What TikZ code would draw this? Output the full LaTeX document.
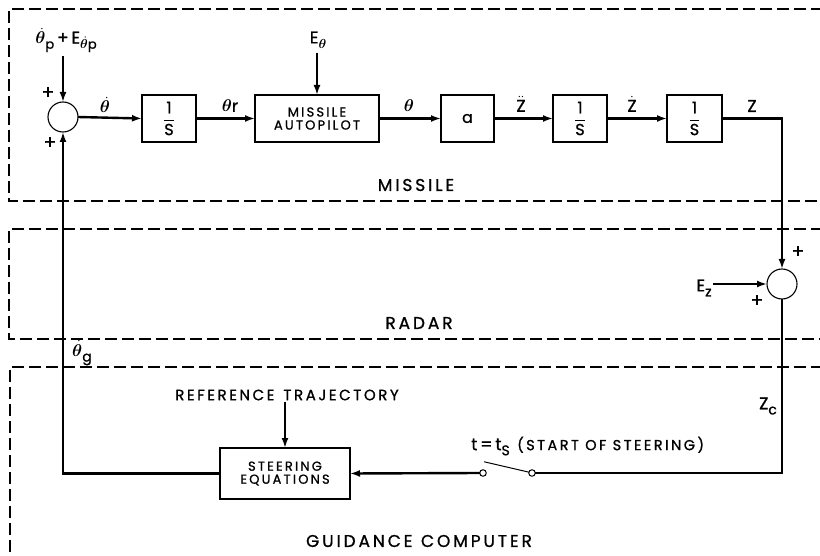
\RequirePackage{fix-cm}
\documentclass[tikz,border=0pt]{standalone}
\usepackage{amsmath,bm}
\usepackage{fontspec}
\setmainfont{Poppins}[LetterSpace=17,FakeBold=1]
\usetikzlibrary{arrows.meta}
\newcommand\mysub[2][13]{\raisebox{-0.3em}{\fontsize{#1}{#1}\selectfont #2}}
\newcommand\myfrac{$\dfrac{\text{1}}{\text{S}}$}
\begin{document}
\begin{tikzpicture}[x=1pt,y=-1pt,
  sig/.style={line width=2.4pt},
  arr/.style={sig,-{Latex[length=10pt,width=7pt]}},
  blk/.style={draw,line width=1.1pt,inner sep=0pt,outer sep=0pt,align=center,font=\fontsize{13}{15}\selectfont},
  fracblk/.style={blk,minimum height=47pt,font=\fontsize{16}{17}\selectfont},
  region/.style={dash pattern=on 12pt off 5pt,line width=1.1pt},
  sumj/.style={circle,draw,line width=1.1pt,minimum size=30pt,inner sep=0pt,outer sep=0pt},
  contact/.style={circle,draw,line width=1pt,minimum size=6.5pt,inner sep=0pt,outer sep=0pt,fill=white},
  lbl/.style={inner sep=1pt,font=\fontsize{17}{20}\selectfont},
  slbl/.style={inner sep=1pt,font=\fontsize{15}{16}\selectfont},
  plus/.style={inner sep=0pt,font=\fontsize{19}{20}\selectfont}]
\useasboundingbox (0,0) rectangle (820,556);
\clip (0,0) rectangle (820,556);
% regions
\draw[region] (840,9) -- (9,9) -- (9,201) -- (840,201);
\draw[region] (840,229) -- (9,229) -- (9,339) -- (840,339);
\draw[region] (840,367) -- (10,367) -- (10,580);
\node[lbl] (lmis) at (416,185) {MISSILE};
\node[lbl] (lrad) at (419,323) {RADAR};
\node[lbl] (lgc) at (419,541) {GUIDANCE\hspace{0.5em}COMPUTER};
% blocks
\node[sumj] (s1) at (63,117) {};
\node[fracblk,minimum width=54pt] (i1) at (169,118.5) {\myfrac};
\node[blk,minimum width=124pt,minimum height=47pt] (ap) at (317,118.5) {MISSILE\\[-2pt]AUTOPILOT};
\node[blk,minimum width=53pt,minimum height=47pt,font=\fontsize{16}{16}\selectfont] (ga) at (467.5,118.5) {a};
\node[fracblk,minimum width=54pt] (i2) at (580,118.5) {\myfrac};
\node[fracblk,minimum width=55pt] (i3) at (694.5,118.5) {\myfrac};
\node[sumj] (s2) at (782,284) {};
\node[blk,minimum width=130pt,minimum height=51pt] (st) at (285,473.5) {STEERING\\[-2pt]EQUATIONS};
\node[contact] (swl) at (483,473) {};
\node[contact] (swr) at (532,473) {};
% labels
\node[lbl] (inp) at (66,40) {$\dot{\bm\theta}$\mysub{p}\,+\,E\mysub{$\dot{\bm\theta}$p}};
\node[lbl] (eth) at (318,40) {E\mysub{$\bm\theta$}};
\node[lbl] (ez) at (704,288) {E\mysub[14]{z}};
\node[slbl] (ref) at (287,395) {REFERENCE\hspace{0.6em}TRAJECTORY};
\node[lbl] at (105,105) {$\dot{\bm\theta}$};
\node[lbl] at (230,106) {$\bm\theta$r};
\node[lbl] at (409,106) {$\bm\theta$};
\node[lbl] at (521,104) {$\ddot{\text{Z}}$};
\node[lbl] at (632,104) {$\dot{\text{Z}}$};
\node[lbl] at (752,106) {Z};
\node[lbl] at (82,353) {$\dot{\bm\theta}$\mysub[14]{g}};
\node[lbl] at (768,406) {Z\mysub[14]{c}};
\node[lbl,anchor=west] at (470,446) {t\,=\,t\mysub[14]{S} {\fontsize{14.5}{15}\selectfont(START OF STEERING)}};
\node[plus] at (48,93) {+};
\node[plus] at (50,143) {+};
\node[plus] at (798,252) {+};
\node[plus] at (757,301) {+};
% connectors
\draw[arr] (inp.south -| s1.north) ++(0,3) -- (s1.north);
\draw[arr] (eth.south -| ap.north) ++(0,3) -- (ap.north);
\draw[arr] (s1.east) -- (i1.west);
\draw[arr] (i1.east) -- (ap.west);
\draw[arr] (ap.east) -- (ga.west);
\draw[arr] (ga.east) -- (i2.west);
\draw[arr] (i2.east) -- (i3.west);
\draw[arr] (i3.east) -| (s2.north);
\draw[arr] (ez.east |- s2.west) -- (s2.west);
\draw[sig] (s2.south) |- (swr.east);
\draw[line width=1pt] (swr.165) -- ([shift={(1,-8)}]swl.north);
\draw[arr] (swl.west) -- (st.east);
\draw[arr] (st.north |- ref.south) -- (st.north);
\draw[arr] (st.west) -| (s1.south);
\end{tikzpicture}
\end{document}
